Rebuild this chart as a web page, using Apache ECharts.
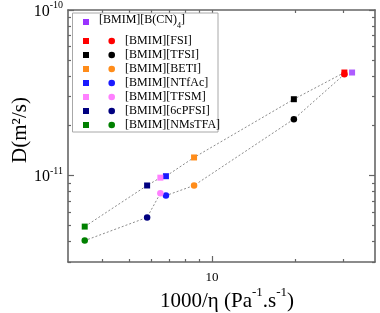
<!DOCTYPE html>
<html>
<head>
<meta charset="utf-8">
<script src="https://cdn.jsdelivr.net/npm/echarts@6/dist/echarts.min.js"></script>
<style>
html,body{margin:0;padding:0;background:#fff;}
#chart{width:380px;height:313px;}
</style>
</head>
<body>
<div id="chart"></div>
<script>
// ---- data (legend order, top to bottom) ----
const names = ['[BMIM][FSI]', '[BMIM][TFSI]', '[BMIM][BETI]', '[BMIM][NTfAc]', '[BMIM][TFSM]', '[BMIM][6cPFSI]', '[BMIM][NMsTFA]'];
const colors = ['#ff0000', '#000000', '#ff8c1a', '#1a1aff', '#ff80ff', '#000080', '#008000'];
const invVisc = [30.2, 19.8, 8.60, 6.80, 6.49, 5.81, 3.45];           // 1000/eta
const dSquare = [4.19e-11, 2.89e-11, 1.285e-11, 9.9e-12, 9.7e-12, 8.7e-12, 4.91e-12];
const dCircle = [4.09e-11, 2.19e-11, 8.7e-12, 7.56e-12, 7.81e-12, 5.58e-12, 4.04e-12];
const bcnName = '[BMIM][B(CN)4]';
const bcnColor = '#9933ff';
const bcnX = [32.2];
const bcnD = [4.19e-11];
// ---- ticks ----
const xMajor = [10];
const xMinor = [4, 5, 6, 7, 8, 9, 20, 30];
const yMajor = [1e-11, 1e-10];
const yMinor = [3e-12, 4e-12, 5e-12, 6e-12, 7e-12, 8e-12, 9e-12, 2e-11, 3e-11, 4e-11, 5e-11, 6e-11, 7e-11, 8e-11, 9e-11];

const FONT = 'Liberation Serif';
const AX = '#666666';

function xAx(pos, ticks, len, line, label) {
  return {
    type: 'log', logBase: 10, min: 3, max: 39, position: pos,
    axisLine: {show: line, onZero: false, lineStyle: {color: AX, width: 1.6}},
    axisTick: {show: true, inside: true, length: len, customValues: ticks, lineStyle: {color: AX, width: 1.2}},
    axisLabel: label ? {show: true, customValues: xMajor, margin: 9, fontSize: 13, fontFamily: FONT, color: '#000'} : {show: false},
    splitLine: {show: false}, minorTick: {show: false}
  };
}
function yAx(pos, ticks, len, line, label) {
  return {
    type: 'log', logBase: 10, min: 3e-12, max: 1e-10, position: pos,
    axisLine: {show: line, onZero: false, lineStyle: {color: AX, width: 1.6}},
    axisTick: {show: true, inside: true, length: len, customValues: ticks, lineStyle: {color: AX, width: 1.2}},
    axisLabel: label ? {
      show: true, customValues: yMajor, margin: 5,
      formatter: function (v) { return '{b|10}{s|' + Math.round(Math.log10(v)) + '}'; },
      rich: {
        b: {fontSize: 16, fontFamily: FONT, color: '#000', verticalAlign: 'bottom', lineHeight: 19},
        s: {fontSize: 10, fontFamily: FONT, color: '#000', verticalAlign: 'top', lineHeight: 15}
      }
    } : {show: false},
    splitLine: {show: false}, minorTick: {show: false}
  };
}

const lineStyle = {color: '#8c8c8c', width: 1, type: [2, 2]};
const series = [
  {
    type: 'line', name: 'sq', xAxisIndex: 0, yAxisIndex: 0,
    symbol: 'rect', symbolSize: 6, lineStyle: lineStyle,
    data: invVisc.map((x, i) => ({value: [x, dSquare[i]], itemStyle: {color: colors[i]}}))
  },
  {
    type: 'line', name: 'ci', xAxisIndex: 0, yAxisIndex: 0,
    symbol: 'circle', symbolSize: 6.5, lineStyle: lineStyle,
    data: invVisc.map((x, i) => ({value: [x, dCircle[i]], itemStyle: {color: colors[i]}}))
  },
  {
    type: 'scatter', name: 'bcn', xAxisIndex: 0, yAxisIndex: 0,
    symbol: 'rect', symbolSize: 6, itemStyle: {color: bcnColor},
    data: bcnX.map((x, i) => [x, bcnD[i]])
  }
];

// ---- legend drawn with graphic ----
const lg = [];
lg.push({type: 'rect', shape: {x: 72.5, y: 13, width: 145.5, height: 119}, style: {fill: '#fff', stroke: '#a8a8a8', lineWidth: 1}, z: 10});
lg.push({type: 'rect', shape: {x: 83, y: 19, width: 6, height: 6}, style: {fill: bcnColor}, z: 11});
lg.push({type: 'text', x: 99, y: 22, z: 11, style: {
  text: '{t|[BMIM][B(CN)}{u|4}{t|]}', verticalAlign: 'middle',
  rich: {t: {fontSize: 12, fontFamily: FONT, fill: '#000', verticalAlign: 'top', lineHeight: 16},
         u: {fontSize: 8, fontFamily: FONT, fill: '#000', verticalAlign: 'bottom', lineHeight: 16}}
}});
names.forEach((n, i) => {
  const y = 41 + i * 14;
  lg.push({type: 'rect', shape: {x: 83, y: y - 3, width: 6, height: 6}, style: {fill: colors[i]}, z: 11});
  lg.push({type: 'circle', shape: {cx: 111.7, cy: y, r: 3.3}, style: {fill: colors[i]}, z: 11});
  lg.push({type: 'text', x: 125, y: y, z: 11, style: {text: n, fontSize: 12, fontFamily: FONT, fill: '#000', verticalAlign: 'middle'}});
});
// axis titles
lg.push({type: 'text', x: 20, y: 130, rotation: Math.PI / 2, z: 11, style: {
  text: 'D(m²/s)', fontSize: 21, fontFamily: FONT, fill: '#000', align: 'center', verticalAlign: 'middle'
}});
lg.push({type: 'text', x: 227, y: 299, z: 11, style: {
  text: '{t|1000/η (Pa}{s|-1}{t|.s}{s|-1}{t|)}', align: 'center', verticalAlign: 'middle',
  rich: {t: {fontSize: 21, fontFamily: FONT, fill: '#000', verticalAlign: 'bottom', lineHeight: 25},
         s: {fontSize: 13, fontFamily: FONT, fill: '#000', verticalAlign: 'top', lineHeight: 25}}
}});

const chart = echarts.init(document.getElementById('chart'), null, {renderer: 'canvas'});
chart.setOption({
  animation: false,
  backgroundColor: '#fff',
  grid: {left: 68, right: 5, top: 10, bottom: 51, containLabel: false},
  xAxis: [xAx('bottom', xMajor, 6, true, true), xAx('bottom', xMinor, 3, false, false),
          xAx('top', xMajor, 6, true, false), xAx('top', xMinor, 3, false, false)],
  yAxis: [yAx('left', yMajor, 6, true, true), yAx('left', yMinor, 3, false, false),
          yAx('right', yMajor, 6, true, false), yAx('right', yMinor, 3, false, false)],
  series: series,
  graphic: lg
});
</script>
</body>
</html>
